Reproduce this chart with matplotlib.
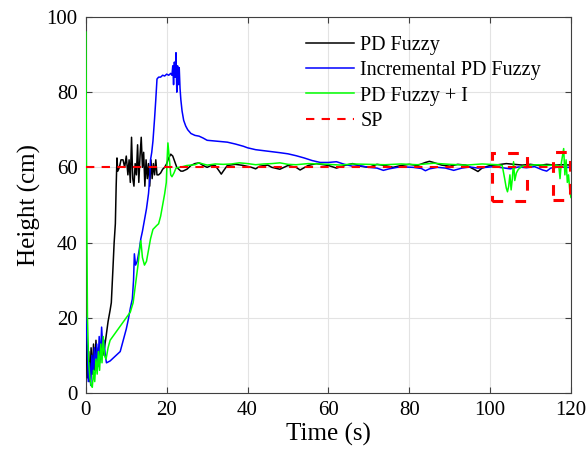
import numpy as np
import matplotlib
matplotlib.use("Agg")
import matplotlib.pyplot as plt
from matplotlib.patches import Rectangle

plt.rcParams['font.family'] = ['Liberation Serif', 'DejaVu Serif']

# PD Fuzzy
t_pd = [0, 0.4, 0.7, 1.0, 1.3, 1.6, 1.9, 2.2, 2.5, 2.8, 3.1, 3.4, 3.8, 4.2, 4.6, 5.0, 5.5, 6.0,
        6.3, 6.7, 7.0, 7.3, 7.5, 7.7, 7.9, 8.3, 8.7, 9.2, 9.6, 10.0, 10.4, 10.7, 11.0, 11.3, 11.6,
        11.9, 12.2, 12.5, 12.8, 13.1, 13.4, 13.7, 14.0, 14.3, 14.6, 14.9, 15.2, 15.5, 15.8, 16.1,
        16.4, 16.7, 17.0, 17.3, 17.6, 18.0, 18.5, 19.0, 19.5, 20.0, 20.5, 21.0, 21.5, 22.0, 22.5,
        23.0, 23.5, 24.0, 25, 26, 27, 28, 29, 30, 31, 32, 33, 33.5, 34, 35, 37, 39, 41, 42, 43, 45,
        46, 48, 50, 52, 53, 55, 57, 60, 62, 64, 66, 68, 70, 72, 74, 76, 78, 80, 82, 84, 85, 86, 88,
        90, 92, 94, 96, 97, 98, 100, 102, 104, 106, 108, 110, 112, 114, 116, 118, 120]
h_pd = [15, 4, 11, 3, 12, 5, 13, 6, 14, 7, 12, 8, 13, 10, 12, 15, 19, 22,
        24, 33, 40, 45, 55, 62.5, 59, 60, 62, 62, 60, 63, 58, 62, 56, 68, 57,
        55, 61, 58, 66, 56, 63, 68, 60, 64, 55, 62, 57, 61, 55, 62,
        57, 61, 58, 62, 58, 58, 58.5, 59.5, 60, 61, 62.5, 63.5, 63, 61.5, 60,
        59.5, 59, 59, 59.5, 60.5, 61, 61.2, 60.5, 60, 60.5, 60.5, 59, 58.2, 59, 60.5, 60.8, 60.5, 60, 59.6, 60.3, 60.6,
        60, 59.5, 60.5, 60, 59.3, 60.5, 61, 60.5, 59.8, 60.5, 61, 60.3, 60, 60.8, 60.5, 60, 60.5, 60.8, 60.5, 61.3, 61.6, 61.3, 60.6,
        60.3, 60.8, 60.6, 59.5, 58.9, 59.8, 60.5, 60.7, 61, 60.8, 60.6, 60.8, 60.5, 60.8, 60.6, 60.7, 60.6]

# Incremental PD Fuzzy
t_inc = [0, 0.3, 0.6, 0.9, 1.2, 1.5, 1.8, 2.1, 2.4, 2.7, 3.0, 3.3, 3.6, 3.9, 4.2, 4.5, 4.8, 5.1,
         6.0, 7.0, 8.0, 8.5, 9.0, 9.5, 10.0, 10.5, 11.0, 11.5, 11.8, 12.0, 12.3, 12.7, 13.2, 13.6,
         14.0, 14.5, 15.0, 15.5, 15.8, 16.0, 16.3, 16.6, 17.0, 17.3, 17.6, 18.0, 18.5, 19.0, 19.5,
         20.0, 20.5, 21.0, 21.3, 21.5, 21.7, 21.9, 22.1, 22.3, 22.5, 22.7, 22.9, 23.1, 23.3, 23.5,
         23.8, 24.2, 24.7, 25.2, 26, 27, 28, 29, 30, 32, 33, 35, 37, 39, 40, 42, 45, 48, 50, 52, 54,
         56, 58, 60, 62, 64, 66, 68, 70, 72, 73.6, 75, 77, 79, 81, 83, 84, 85, 87, 89, 91, 93, 95,
         97, 99, 101, 103, 105, 107, 109, 111, 113, 114, 115, 117, 119, 120]
h_inc = [20, 14, 3, 8, 2, 10, 5, 12, 6, 13, 7, 15, 9, 17.5, 12, 14, 10, 8,
         8.5, 9.5, 10.5, 11, 13, 15, 17, 19.5, 22.5, 25, 30, 37, 34, 35, 38, 41,
         43, 46, 49, 53, 57, 62, 64, 67, 73, 78, 83.5, 84, 84, 84.5, 84.3,
         84.8, 84.5, 85, 84.5, 87, 82, 88, 84, 90.5, 80, 87, 82, 86.5, 81, 78,
         75, 72.5, 71, 70, 69, 68.5, 68.3, 67.8, 67.2, 67, 66.9, 66.7, 66.2, 65.6, 65.2, 64.7, 64.3, 63.9, 63.6, 63.1, 62.5,
         61.8, 61.3, 61.3, 61.5, 60.8, 60.3, 60.4, 60, 59.8, 59.2, 59.6, 60, 60.1, 60, 59.7, 59.1, 59.6, 60, 59.8, 59.2, 59.8, 60.1,
         59.8, 60, 60.2, 59.9, 59.6, 60.1, 59.9, 60.2, 59.3, 59, 59.8, 60.1, 60, 60]

# PD Fuzzy + I
t_pdi = [0, 0.15, 0.4, 0.7, 1.0, 1.3, 1.6, 1.9, 2.2, 2.5, 2.8, 3.1, 3.4, 3.7, 4.0, 4.3, 4.6, 5.0,
         5.5, 6.0, 7.0, 8.0, 9.0, 10.0, 11.0, 11.7, 12.3, 12.9, 13.3, 13.6, 14.0, 14.5, 15.0, 15.5,
         16.0, 16.6, 17.5, 18.0, 18.5, 19.0, 19.5, 19.9, 20.1, 20.3, 20.6, 21.0, 21.3, 21.8, 22.3,
         23, 24, 25, 27, 28, 30, 32, 34, 36, 38, 40, 42, 44, 46, 48, 50, 52, 55, 58, 60, 63, 66, 70,
         74, 78, 82, 86, 90, 94, 98, 100, 102, 103, 103.6, 104, 104.3, 104.6, 104.9, 105.2, 105.5,
         105.8, 106.1, 106.5, 107, 108, 110, 112, 114, 116, 117.0, 117.3, 117.6, 117.9, 118.2,
         118.5, 118.8, 119.1, 119.4, 119.7, 120]
h_pdi = [96, 60, 20, 8, 4, 2, 1.5, 6, 3, 9, 5, 11, 6, 13, 8, 15, 10, 9,
         12, 14, 15.5, 17, 18.5, 20, 21.5, 24, 29, 34, 38, 40.5, 36, 34, 35, 38,
         41, 43.5, 44.5, 45, 47, 50, 53, 56, 62, 66.5, 63, 58, 57.5, 58.5, 59.8,
         60, 60.2, 60.5, 60.7, 61.2, 60.6, 60.9, 60.8, 60.9, 61.2, 61, 60.7, 60.9, 61, 61.2, 60.8, 60.7, 61, 60.9, 60.8, 60.6, 60.9, 60.8,
         60.7, 60.9, 60.7, 61.1, 60.8, 60.6, 60.9, 60.8, 60.7, 60.5, 57, 54.5, 53.5, 55, 58, 54, 57,
         61.5, 56.5, 58.5, 59.5, 60.3, 60.6, 60.7, 60.5, 60.6, 60.4, 57, 61, 63, 65,
         58, 62, 56, 58, 54, 52]

t_sp = [0, 120]
h_sp = [60, 60]

# zoom boxes (t_start, t_end), (h_low, h_high)
box_t = [(100.4, 109.1), (115.6, 119.8)]
box_h = [(51.1, 63.7), (51.3, 64.2)]

fig = plt.figure(figsize=(5.88, 4.59), dpi=100)
ax = fig.add_axes([0.146, 0.144, 0.825, 0.819])

ax.plot(t_pd, h_pd, color='black', lw=1.1, label='PD Fuzzy', zorder=3)
ax.plot(t_inc, h_inc, color='#0000ff', lw=1.1, label='Incremental PD Fuzzy', zorder=3)
ax.plot(t_pdi, h_pdi, color='#00ff00', lw=1.1, label='PD Fuzzy + I', zorder=3)
ax.plot(t_sp, h_sp, color='red', lw=1.5, linestyle=(0, (4, 3.5)), label='SP', zorder=3)

for (t0, t1), (h0, h1) in zip(box_t, box_h):
    ax.add_patch(Rectangle((t0, h0), t1 - t0, h1 - h0, fill=False, edgecolor='red',
                           lw=2.2, linestyle=(0, (3.5, 4)), zorder=5))

ax.set_xlim(0, 120)
ax.set_ylim(0, 100)
ax.set_xticks(np.arange(0, 121, 20))
ax.set_yticks(np.arange(0, 101, 20))
ax.grid(True, color='#e3e3e3', lw=0.8)
ax.set_axisbelow(True)
ax.tick_params(direction='in', top=True, right=True, labelsize=15, length=4,
               color='#404040', pad=6)
for s in ax.spines.values():
    s.set_color('#404040')
    s.set_linewidth(0.8)

ax.set_xlabel('Time (s)', fontsize=18, labelpad=2)
ax.set_ylabel('Height (cm)', fontsize=18, labelpad=4)

ax.legend(loc='upper left', bbox_to_anchor=(0.454, 0.949), frameon=False, fontsize=14.5,
          handlelength=2.4, handletextpad=0.3, labelspacing=0.3, borderpad=0,
          borderaxespad=0)

fig.savefig('out.png', dpi=100)
